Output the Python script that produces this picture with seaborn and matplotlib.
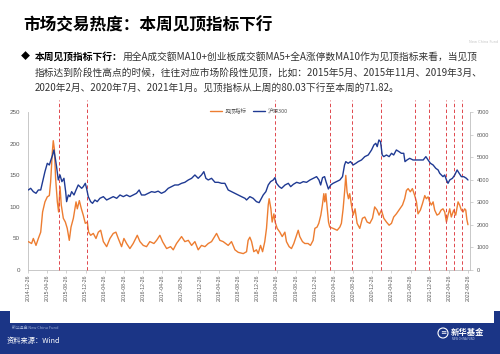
import numpy as np
import pandas as pd
import matplotlib
matplotlib.use("Agg")
import matplotlib.pyplot as plt
import seaborn as sns
from matplotlib.patches import Rectangle, Ellipse
from matplotlib.lines import Line2D

# ---------------- data ----------------
top_dates = [
    "2014-12-26", "2015-01-16", "2015-01-27", "2015-02-13", "2015-02-28", "2015-03-15", "2015-03-27",
    "2015-04-11", "2015-04-26", "2015-05-09", "2015-05-17", "2015-05-28", "2015-06-03", "2015-06-10",
    "2015-06-18", "2015-06-29", "2015-07-07", "2015-07-16", "2015-07-24", "2015-08-06", "2015-08-19",
    "2015-08-31", "2015-09-13", "2015-09-24", "2015-10-09", "2015-10-26", "2015-11-03", "2015-11-16",
    "2015-11-29", "2015-12-11", "2015-12-24",
    "2016-01-06", "2016-01-14", "2016-01-27", "2016-02-13", "2016-03-01", "2016-03-16", "2016-03-31",
    "2016-04-17", "2016-05-08", "2016-05-29", "2016-06-19", "2016-07-06", "2016-07-21", "2016-08-11",
    "2016-08-26", "2016-09-12", "2016-10-03", "2016-10-24", "2016-11-19", "2016-12-06", "2016-12-27",
    "2017-01-17", "2017-02-07", "2017-03-05", "2017-03-22", "2017-04-12", "2017-04-29", "2017-05-25",
    "2017-06-19", "2017-07-06", "2017-07-27", "2017-08-28", "2017-09-18", "2017-10-10", "2017-10-31",
    "2017-11-21", "2017-12-12",
    "2018-01-02", "2018-01-24", "2018-02-14", "2018-03-07", "2018-04-08", "2018-04-29", "2018-05-20",
    "2018-06-21", "2018-07-12", "2018-08-03", "2018-08-24", "2018-09-25", "2018-10-16", "2018-10-26",
    "2018-11-06", "2018-11-17", "2018-12-01", "2018-12-18", "2018-12-29",
    "2019-01-13", "2019-01-26", "2019-02-09", "2019-02-20", "2019-03-03", "2019-03-09", "2019-03-20",
    "2019-03-28", "2019-04-08", "2019-04-16", "2019-04-29", "2019-05-16", "2019-05-31", "2019-06-17",
    "2019-06-27", "2019-07-14", "2019-07-29", "2019-08-13", "2019-08-30", "2019-09-10", "2019-09-20",
    "2019-10-07", "2019-10-22", "2019-11-12", "2019-11-27", "2019-12-14", "2019-12-25",
    "2020-01-08", "2020-01-19", "2020-02-01", "2020-02-11", "2020-02-20", "2020-02-26", "2020-03-04",
    "2020-03-12", "2020-03-21", "2020-03-29", "2020-04-19", "2020-05-15", "2020-06-01", "2020-06-11",
    "2020-06-22", "2020-07-03", "2020-07-09", "2020-07-17", "2020-07-26", "2020-08-03", "2020-08-14",
    "2020-08-25", "2020-09-06", "2020-09-19", "2020-10-06", "2020-10-23", "2020-11-07", "2020-11-22",
    "2020-12-09", "2020-12-26",
    "2021-01-09", "2021-01-24", "2021-02-06", "2021-02-21", "2021-03-08", "2021-03-25", "2021-04-11",
    "2021-04-26", "2021-05-10", "2021-05-27", "2021-06-18", "2021-07-05", "2021-07-19", "2021-07-30",
    "2021-08-10", "2021-08-24", "2021-09-06", "2021-09-21", "2021-10-02", "2021-10-12", "2021-10-27",
    "2021-11-09", "2021-11-24", "2021-12-04", "2021-12-15", "2021-12-25",
    "2022-01-05", "2022-01-16", "2022-01-26", "2022-02-10", "2022-02-23", "2022-03-08", "2022-03-20",
    "2022-03-31", "2022-04-11", "2022-04-21", "2022-05-02", "2022-05-12", "2022-05-27", "2022-06-09",
    "2022-06-24", "2022-07-04", "2022-07-15", "2022-07-26", "2022-08-05", "2022-08-12", "2022-08-19",
    "2022-08-26",
]
top_values = [
    45, 42, 50, 39, 50, 60, 92, 108, 116, 118, 139, 187, 205, 192, 145, 108, 92, 132, 103, 82, 76,
    66, 47, 68, 82, 108, 97, 110, 97, 87, 74,
    76, 60, 55, 58, 50, 60, 63, 45, 37, 50, 58, 60, 50, 37, 50, 42, 34, 42, 55, 45, 39,
    37, 45, 42, 47, 55, 45, 34, 37, 32, 42, 53, 45, 47, 39, 45, 32,
    39, 37, 42, 45, 58, 47, 45, 39, 45, 32, 28, 26, 29, 47, 52, 45, 29, 32, 26,
    39, 29, 45, 66, 103, 113, 97, 76, 89, 76, 66, 60, 53, 60, 45, 37, 34, 42, 55, 63, 53, 45, 42,
    42, 39, 47, 66,
    68, 74, 87, 103, 121, 108, 121, 100, 76, 68, 66, 63, 68, 74, 97, 129, 150, 124, 113, 121, 103,
    87, 97, 74, 66, 82, 84, 76, 74, 82,
    100, 95, 87, 95, 82, 76, 71, 74, 84, 89, 97, 103, 113, 126, 129, 124, 129, 118, 108, 89, 95,
    105, 118, 113, 116, 108,
    103, 108, 95, 87, 89, 95, 97, 92, 76, 87, 97, 84, 95, 87, 108, 103, 95, 92, 97, 95, 80.03, 71.82,
]

hs300_dates = [
    "2014-12-26", "2015-01-10", "2015-01-27", "2015-02-13", "2015-02-28", "2015-03-15", "2015-03-27",
    "2015-04-11", "2015-04-26", "2015-05-09", "2015-05-19", "2015-05-30", "2015-06-07", "2015-06-16",
    "2015-06-24", "2015-07-05", "2015-07-16", "2015-07-28", "2015-08-10", "2015-08-21", "2015-08-27",
    "2015-09-07", "2015-09-17", "2015-09-28", "2015-10-13", "2015-10-26", "2015-11-09", "2015-11-20",
    "2015-12-01", "2015-12-11", "2015-12-24",
    "2016-01-01", "2016-01-12", "2016-01-27", "2016-02-08", "2016-02-23", "2016-03-09", "2016-03-26",
    "2016-04-17", "2016-05-08", "2016-05-29", "2016-06-19", "2016-07-11", "2016-08-01", "2016-08-22",
    "2016-09-12", "2016-10-03", "2016-10-24", "2016-11-14", "2016-12-01", "2016-12-16",
    "2017-01-06", "2017-01-27", "2017-02-18", "2017-03-11", "2017-04-01", "2017-04-22", "2017-05-14",
    "2017-06-04", "2017-06-25", "2017-07-16", "2017-08-07", "2017-08-28", "2017-09-18", "2017-10-10",
    "2017-10-31", "2017-11-21", "2017-12-12",
    "2018-01-02", "2018-01-17", "2018-01-30", "2018-02-14", "2018-03-07", "2018-03-29", "2018-04-19",
    "2018-05-10", "2018-05-31", "2018-06-21", "2018-07-12", "2018-08-03", "2018-08-24", "2018-09-14",
    "2018-10-06", "2018-10-16", "2018-11-06", "2018-11-27", "2018-12-18",
    "2019-01-04", "2019-01-30", "2019-02-16", "2019-03-03", "2019-03-18", "2019-04-04", "2019-04-15",
    "2019-04-25", "2019-05-12", "2019-05-27", "2019-06-18", "2019-07-09", "2019-07-24", "2019-08-10",
    "2019-08-31", "2019-09-21", "2019-10-12", "2019-11-02", "2019-11-24", "2019-12-15",
    "2020-01-05", "2020-01-20", "2020-01-31", "2020-02-12", "2020-02-25", "2020-03-05", "2020-03-20",
    "2020-04-04", "2020-04-19", "2020-05-11", "2020-06-01", "2020-06-18", "2020-07-01", "2020-07-09",
    "2020-07-24", "2020-08-08", "2020-08-25", "2020-09-11", "2020-09-26", "2020-10-17", "2020-11-07",
    "2020-11-29", "2020-12-20",
    "2021-01-04", "2021-01-16", "2021-01-25", "2021-02-05", "2021-02-15", "2021-02-26", "2021-03-08",
    "2021-03-25", "2021-04-11", "2021-04-26", "2021-05-10", "2021-05-27", "2021-06-13", "2021-06-28",
    "2021-07-13", "2021-07-21", "2021-08-03", "2021-08-20", "2021-09-10", "2021-10-02", "2021-10-23",
    "2021-11-14", "2021-12-01", "2021-12-15", "2021-12-30",
    "2022-01-16", "2022-02-02", "2022-02-17", "2022-02-27", "2022-03-10", "2022-03-20", "2022-03-31",
    "2022-04-11", "2022-04-21", "2022-05-02", "2022-05-19", "2022-06-03", "2022-06-18", "2022-07-01",
    "2022-07-15", "2022-07-30", "2022-08-16", "2022-08-26",
]
hs300_values = [
    3552, 3626, 3478, 3404, 3552, 3552, 3922, 4366, 4736, 4662, 4884, 5106, 5328, 4958, 4588, 3996,
    4218, 3922, 4070, 3478, 3034, 3330, 3256, 3478, 3330, 3552, 3774, 3700, 3626, 3700, 3848,
    3626, 3256, 3034, 2960, 3108, 3034, 3182, 3256, 3108, 3182, 3256, 3182, 3330, 3256, 3330, 3256,
    3330, 3404, 3552, 3330,
    3330, 3404, 3478, 3448, 3500, 3404, 3478, 3626, 3700, 3774, 3774, 3848, 3892, 3996, 4070, 4218,
    4070,
    4218, 4366, 4070, 3996, 4070, 3892, 3892, 3848, 3848, 3552, 3478, 3404, 3330, 3256, 3182, 3108,
    3256, 3182, 3034,
    2990, 3330, 3478, 3774, 3922, 3996, 4100, 3848, 3700, 3626, 3774, 3848, 3700, 3804, 3892, 3848,
    3922, 3892, 3996, 4070,
    4144, 3996, 3774, 4100, 4144, 3922, 3596, 3774, 3848, 3922, 3996, 4144, 4662, 4810, 4736, 4810,
    4662, 4736, 4810, 4884, 5032, 5106, 5328,
    5550, 5624, 5476, 5772, 5698, 5106, 5032, 5106, 5032, 5180, 5106, 5328, 5254, 5180, 5180, 4810,
    4884, 4958, 4884, 4884, 4884, 4884, 5032, 4884, 4736,
    4662, 4514, 4440, 4292, 4218, 4144, 4218, 3996, 3848, 3996, 4070, 4218, 4440, 4292, 4144, 4144,
    4070, 3996,
]

peak_dates = [
    "2015-07-11", "2016-01-01", "2019-04-16", "2020-03-30", "2020-08-15", "2021-02-21",
    "2021-09-25", "2021-12-22", "2022-04-11", "2022-05-28", "2022-07-19",
]

xtick_labels = [
    "2014-12-26", "2015-04-26", "2015-08-26", "2015-12-26", "2016-04-26", "2016-08-26",
    "2016-12-26", "2017-04-26", "2017-08-26", "2017-12-26", "2018-04-26", "2018-08-26",
    "2018-12-26", "2019-04-26", "2019-08-26", "2019-12-26", "2020-04-26", "2020-08-26",
    "2020-12-26", "2021-04-26", "2021-08-26", "2021-12-26", "2022-04-26", "2022-08-26",
]
left_ticks = [0, 50, 100, 150, 200, 250]
right_ticks = [0, 1000, 2000, 3000, 4000, 5000, 6000, 7000]

series_names = ["见顶指标", "沪深300"]

title_text = "市场交易热度：本周见顶指标下行"
bullet_head = "本周见顶指标下行："
bullet_line1 = "用全A成交额MA10+创业板成交额MA5+全A涨停数MA10作为见顶指标来看，当见顶"
bullet_line2 = "指标达到阶段性高点的时候，往往对应市场阶段性见顶，比如：2015年5月、2015年11月、2019年3月、"
bullet_line3 = "2020年2月、2020年7月、2021年1月。见顶指标从上周的80.03下行至本周的71.82。"
source_text = "资料来源：Wind"

# ---------------- style ----------------
sns.set_theme(style="white")
plt.rcParams["font.family"] = ["Noto Sans CJK SC", "DejaVu Sans"]

W, H = 500, 354
ORANGE = "#ED7D31"
NAVY = "#1F3A93"
RED = "#E0474C"
GRID = "#BFBFBF"
TICKC = "#595959"
FOOT = "#1B3586"


def fx(px):
    return px / W


def fy(py):
    return 1 - py / H


fig = plt.figure(figsize=(5.0, 3.54), dpi=100)
fig.patch.set_facecolor("white")

# footer band
fig.add_artist(Rectangle((0, 0), 1, fy(323), transform=fig.transFigure,
                         facecolor=FOOT, edgecolor="none", zorder=0))
fig.add_artist(Rectangle((0, fy(323)), fx(10), fy(311) - fy(323), transform=fig.transFigure,
                         facecolor=FOOT, edgecolor="none", zorder=0))
fig.add_artist(Rectangle((fx(494), fy(323)), fx(6), fy(311) - fy(323), transform=fig.transFigure,
                         facecolor=FOOT, edgecolor="none", zorder=0))

# ---------------- chart ----------------
ax = fig.add_axes([fx(28.3), fy(270), fx(470) - fx(28.3), fy(112.3) - fy(270)])
ax.set_facecolor("white")

df_top = pd.DataFrame({"date": pd.to_datetime(top_dates), "value": top_values})
df_hs = pd.DataFrame({"date": pd.to_datetime(hs300_dates), "value": hs300_values})

sns.lineplot(data=df_top, x="date", y="value", ax=ax, color=ORANGE, linewidth=1.0,
             estimator=None, legend=False, zorder=3)

for d in pd.to_datetime(peak_dates):
    ax.axvline(d, ymin=0, ymax=1.078, color=RED, linewidth=0.7, linestyle=(0, (3.5, 2.5)),
               clip_on=False, zorder=5)

ax2 = ax.twinx()
sns.lineplot(data=df_hs, x="date", y="value", ax=ax2, color=NAVY, linewidth=1.0,
             estimator=None, legend=False, zorder=3)

xt = pd.to_datetime(xtick_labels)
ax.set_xlim(pd.Timestamp("2014-12-26"), pd.Timestamp("2022-09-08"))
ax.set_ylim(0, 250)
ax2.set_ylim(0, 7000)
ax.set_xticks(xt)
ax.set_xticklabels(xtick_labels, rotation=90, fontsize=3.7, color=TICKC, family="Liberation Sans")
ax.set_yticks(left_ticks)
ax.set_yticklabels([str(v) for v in left_ticks], fontsize=4.5, color=TICKC, family="Liberation Sans")
ax2.set_yticks(right_ticks)
ax2.set_yticklabels([str(v) for v in right_ticks], fontsize=4.0, color=TICKC, family="Liberation Sans")
ax.set_xlabel("")
ax.set_ylabel("")
ax2.set_ylabel("")
ax.grid(False)
ax2.grid(False)

ax.tick_params(axis="x", length=2, width=0.5, color=GRID, pad=1.5, bottom=True)
ax.tick_params(axis="y", length=0, pad=6)
ax2.tick_params(axis="y", length=2, width=0.5, color=GRID, pad=3, right=True)

for a in (ax, ax2):
    for s in a.spines.values():
        s.set_color(GRID)
        s.set_linewidth(0.6)
    a.spines["top"].set_visible(False)
ax.spines["right"].set_visible(False)
ax2.spines["left"].set_visible(False)
ax2.spines["bottom"].set_visible(False)
ax2.patch.set_visible(False)

handles = [Line2D([], [], color=ORANGE, lw=1.0), Line2D([], [], color=NAVY, lw=1.0)]
fig.legend(handles, series_names, loc="center", bbox_to_anchor=(fx(249), fy(110.5)), ncol=2,
           frameon=False, fontsize=4, handlelength=2.2, handletextpad=0.4, columnspacing=1.2,
           labelcolor="#595959")

# ---------------- texts ----------------
fig.text(fx(23), fy(25), title_text, fontsize=12, fontweight="bold", color="black",
         ha="left", va="center")

fig.text(fx(20.5), fy(57), "◆", fontsize=6.5, color="black", ha="left", va="center")
head = fig.text(fx(35), fy(57), bullet_head, fontsize=7, fontweight="bold", color="black",
                ha="left", va="center")
ax.annotate(bullet_line1, xy=(1, 0.5), xycoords=head, fontsize=7, color="#333333",
            ha="left", va="center", annotation_clip=False)
fig.text(fx(35), fy(72.5), bullet_line2, fontsize=7, color="#333333", ha="left", va="center")
fig.text(fx(35), fy(88), bullet_line3, fontsize=7, color="#333333", ha="left", va="center")

# faint top-right brand
fig.text(fx(498), fy(42), "New China Fund", fontsize=2.6, color="#c8c8c8", ha="right", va="center",
         family="DejaVu Sans")

# footer texts
fig.text(fx(12), fy(328), "新华基金 New China Fund", fontsize=2.8, color="#9FB0D8",
         ha="left", va="center", style="italic")
fig.text(fx(7), fy(340.5), source_text, fontsize=5.2, color="white", ha="left", va="center")
fig.add_artist(Ellipse((fx(443), fy(333)), fx(10), 10 / H, transform=fig.transFigure,
                       facecolor="none", edgecolor="white", linewidth=0.8))
fig.text(fx(443), fy(333), "≡", fontsize=4.5, color="white", ha="center", va="center")
fig.text(fx(451), fy(332), "新华基金", fontsize=6, fontweight="bold", color="white",
         ha="left", va="center")
fig.text(fx(452), fy(339), "NEW CHINA FUND", fontsize=1.8, color="#C8D2EE",
         ha="left", va="center", family="DejaVu Sans")

fig.savefig("out.png", dpi=100, facecolor=fig.get_facecolor())
